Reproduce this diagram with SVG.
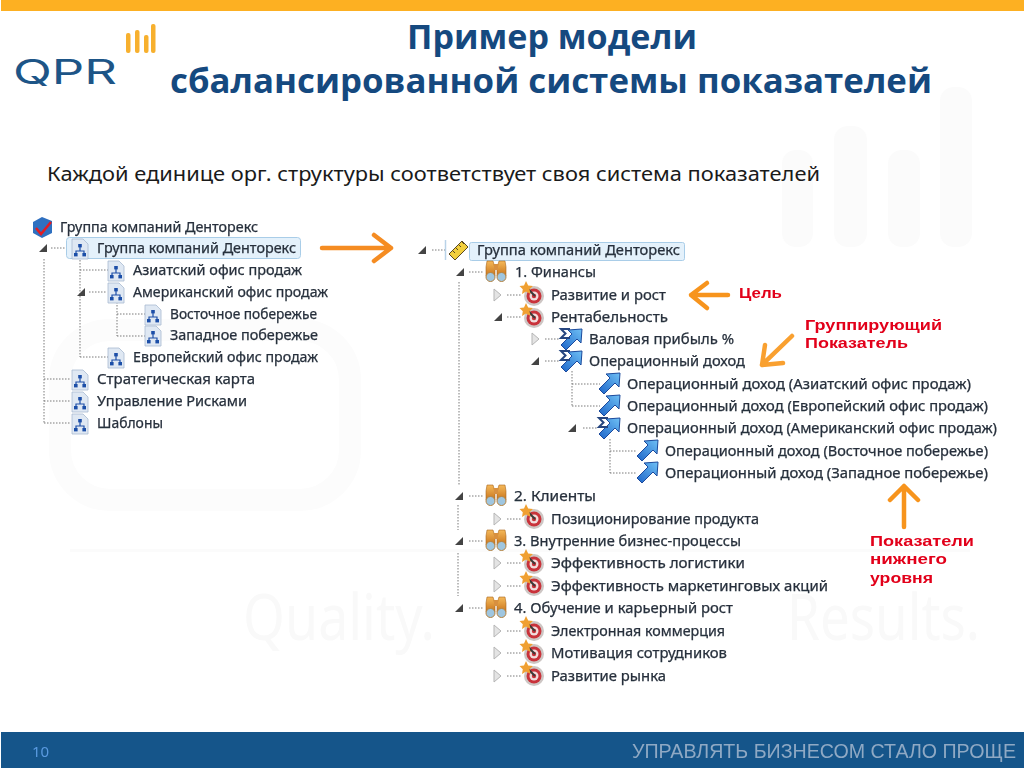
<svg xmlns="http://www.w3.org/2000/svg" width="1024" height="768" viewBox="0 0 1024 768">
<style>
text{font-family:"Noto Sans","DejaVu Sans","Liberation Sans",sans-serif}
.t{font-size:13.5px;fill:#27303c;stroke:#27303c;stroke-width:.25px}
.r{font-size:15.5px;font-weight:700;fill:#e2001a;font-family:"Liberation Sans",Arial,sans-serif}
.d{fill:none;stroke:#7a7a7a;stroke-width:1;stroke-dasharray:1.5 1.5}
.o{fill:none;stroke-width:4.500;stroke-linecap:round;stroke-linejoin:round}
.w{fill:#fbfbfb}
.ti{font-family:"Open Sans","Noto Sans",sans-serif;font-size:34px;font-weight:700;fill:#15497f}
</style>
<defs>
<filter id="soft" x="-2%" y="-2%" width="104%" height="104%"><feGaussianBlur stdDeviation="0.3"/></filter>
<linearGradient id="gb" x1="0" y1="1" x2="1" y2="0"><stop offset="0" stop-color="#1c64c8"/><stop offset="1" stop-color="#6fc0f5"/></linearGradient>
<linearGradient id="go" x1="0" y1="0" x2="0" y2="1"><stop offset="0" stop-color="#f5b95a"/><stop offset="1" stop-color="#c8741c"/></linearGradient>
<polygon id="ef" points="4,-4 4,4 -4,4" fill="#444"/>
<polygon id="ec" points="-3,-6 4,0 -3,6" fill="#e4e4e4" stroke="#b5b5b5"/>
<g id="org">
<path d="M-8,-10H3L8,-5V10H-8Z" fill="#dfe8f3" stroke="#a8bad0" stroke-width=".8"/>
<path d="M0,-2V2M-4,5V2H4V5" fill="none" stroke="#1f4fa8" stroke-width="1.2"/>
<rect x="-1.800" y="-5" width="3.600" height="3.400" fill="#1f4fa8"/><rect x="-6" y="4" width="3.600" height="3.400" fill="#1f4fa8"/><rect x="2.400" y="4" width="3.600" height="3.400" fill="#1f4fa8"/>
</g>
<path id="arr" d="M-10,5L1,-6L-3,-10L11,-11L10,3L6,-1L-5,10Z" fill="url(#gb)" stroke="#1b4a9c" stroke-width="1"/>
<g id="sig"><use href="#arr"/><path d="M-1,-11H-10L-5.500,-6.500L-10,-2H-1" fill="none" stroke="#27457f" stroke-width="2"/></g>
<g id="tgt">
<circle r="10" cy="1" fill="#cdc6c4"/><circle r="7.500" cy="1" fill="#c9333a"/><circle r="4.500" cy="1" fill="#f0dcdc"/><circle r="2.200" cy="1" fill="#c9333a"/>
<path d="M-7,-7L1,1" stroke="#3a3a3a" stroke-width="2"/>
<polygon points="-8,-14 -5.800,-9.500 -1,-9 -4.500,-5.800 -3.500,-1 -8,-3.400 -12,-1 -11.200,-5.800 -14.500,-9 -10,-9.500" fill="#f0a030"/>
</g>
<g id="bin">
<path d="M-9,-10H-3L-1,-3V5H-10V-4ZM3,-10H9L10,-4V5H1V-3Z" fill="url(#go)" stroke="#a8651c" stroke-width=".6"/>
<rect x="-2" y="-7" width="4" height="6" fill="#d89040"/>
<circle cx="-5.500" cy="6" r="4.500" fill="#9fc6e0" stroke="#b5813e"/><circle cx="5.500" cy="6" r="4.500" fill="#9fc6e0" stroke="#b5813e"/>
</g>
</defs>

<g id="background">
<rect width="1024" height="768" fill="#fff"/>
<rect class="w" x="782" y="150" width="31" height="97" rx="14"/><rect class="w" x="834" y="126" width="33" height="121" rx="14"/><rect class="w" x="888" y="150" width="32" height="97" rx="14"/><rect class="w" x="940" y="87" width="32" height="160" rx="14"/>
<rect x="60" y="330" width="290" height="170" rx="50" fill="none" stroke="#fcfcfc" stroke-width="22"/>
<rect x="70" y="549" width="900" height="3" fill="#fbfbfb"/>
<text x="243" y="640" font-size="64" fill="#f9f9f9" textLength="192" lengthAdjust="spacingAndGlyphs">Quality.</text>
<text x="787" y="640" font-size="64" fill="#f9f9f9" textLength="193" lengthAdjust="spacingAndGlyphs">Results.</text>
</g>

<g id="header">
<rect x="1" y="0" width="1023" height="11" fill="#fdb022"/>
<g id="logo">
<rect x="126" y="33" width="4.500" height="20" rx="2" fill="#f7b02e"/><rect x="135" y="30" width="4.500" height="23" rx="2" fill="#f7b02e"/><rect x="144" y="35" width="4.500" height="18" rx="2" fill="#f7b02e"/><rect x="151" y="24" width="4.500" height="29" rx="2" fill="#f7b02e"/>
<text x="13" y="84" font-size="34" font-weight="400" textLength="104" lengthAdjust="spacingAndGlyphs" fill="#1d5587" style="font-family:Inter,'Noto Sans',sans-serif">QPR</text>
</g>
<text class="ti" x="407" y="49" textLength="290" lengthAdjust="spacingAndGlyphs">Пример модели</text>
<text class="ti" x="170" y="93" textLength="762" lengthAdjust="spacingAndGlyphs">сбалансированной системы показателей</text>
<text x="47" y="181" font-size="20" fill="#1a1a1a" textLength="773" lengthAdjust="spacingAndGlyphs">Каждой единице орг. структуры соответствует своя система показателей</text>
</g>

<g id="connectors">
<path class="d" d="M44,259V423M44,379H70M44,401H70M44,423H70M51,248H66M80,260V357M80,270H108M80,357H108M89,292H107M117,302V336M117,314H145M117,336H145"/>
<path class="d" d="M432,250H447M469,272H484M459,282V486M507,295H522M507,317H522M545,339H560M545,361H560M572,371V406M572,384H600M572,406H600M583,428H597M610,439V473M610,451H637M610,473H637"/>
<path class="d" d="M469,496H484M458,505V530M507,519H522M469,541H484M458,553V596M507,563H522M507,586H522M469,608H484M507,631H522M507,653H522M507,676H522"/>
<path d="M445.500,240V260" stroke="#b9d3e8" stroke-width="1.500" fill="none"/>
<g fill="none"><use href="#ef" x="43" y="248"/><use href="#ef" x="81" y="292"/><use href="#ef" x="422" y="250"/><use href="#ef" x="460" y="272"/><use href="#ef" x="498" y="317"/><use href="#ef" x="535" y="361"/><use href="#ef" x="572" y="428"/><use href="#ef" x="459" y="496"/><use href="#ef" x="459" y="541"/><use href="#ef" x="459" y="608"/>
<use href="#ec" x="497" y="295"/><use href="#ec" x="535" y="339"/><use href="#ec" x="497" y="519"/><use href="#ec" x="497" y="563"/><use href="#ec" x="497" y="586"/><use href="#ec" x="497" y="631"/><use href="#ec" x="497" y="653"/><use href="#ec" x="497" y="676"/></g>
</g>

<g id="callout-arrows">
<path class="o" stroke="#f58c22" stroke-width="5" d="M322,248H391M374,235L391,248L374,261"/>
<path class="o" stroke="#f7941d" d="M728,295H691M707,283L691,295L707,308"/>
<path class="o" stroke="#f9a030" d="M792,336L762,365M765,345L762,365L783,363"/>
<path class="o" stroke="#f7941d" d="M904,527V486M890,500L904,486L918,500"/>
</g>

<g id="left-tree" filter="url(#soft)">
<g id="l0"><path d="M33,222L42,217L52,221V233L42,238L33,233Z" fill="#2f6fc0"/><path d="M36,228L41,234L51,222" fill="none" stroke="#e01c24" stroke-width="2.500"/><text class="t" x="60" y="232" textLength="198" lengthAdjust="spacingAndGlyphs">Группа компаний Денторекс</text></g>
<g id="l1"><rect x="66.500" y="237.500" width="234" height="21" rx="3" fill="#e4f1fb" stroke="#a9cde8"/><use href="#org" x="80" y="249"/><text class="t" x="97" y="253" textLength="199" lengthAdjust="spacingAndGlyphs">Группа компаний Денторекс</text></g>
<g id="l2"><use href="#org" x="116" y="271"/><text class="t" x="133" y="275" textLength="169" lengthAdjust="spacingAndGlyphs">Азиатский офис продаж</text></g>
<g id="l3"><use href="#org" x="116" y="293"/><text class="t" x="133" y="297" textLength="195" lengthAdjust="spacingAndGlyphs">Американский офис продаж</text></g>
<g id="l4"><use href="#org" x="153" y="315"/><text class="t" x="170" y="319" textLength="147" lengthAdjust="spacingAndGlyphs">Восточное побережье</text></g>
<g id="l5"><use href="#org" x="153" y="336"/><text class="t" x="170" y="340" textLength="148" lengthAdjust="spacingAndGlyphs">Западное побережье</text></g>
<g id="l6"><use href="#org" x="116" y="358"/><text class="t" x="133" y="362" textLength="185" lengthAdjust="spacingAndGlyphs">Европейский офис продаж</text></g>
<g id="l7"><use href="#org" x="80" y="380"/><text class="t" x="97" y="384" textLength="158" lengthAdjust="spacingAndGlyphs">Стратегическая карта</text></g>
<g id="l8"><use href="#org" x="80" y="402"/><text class="t" x="97" y="406" textLength="150" lengthAdjust="spacingAndGlyphs">Управление Рисками</text></g>
<g id="l9"><use href="#org" x="80" y="424"/><text class="t" x="97" y="428" textLength="66" lengthAdjust="spacingAndGlyphs">Шаблоны</text></g>
</g>

<g id="right-tree" filter="url(#soft)">
<g id="r0"><rect x="469.500" y="242.500" width="215" height="18" rx="2" fill="#e4f1fb" stroke="#a9cde8"/><path d="M449,254L462,241L468,247L455,260Z" fill="#f2cf3c" stroke="#5a4a20"/><path d="M453,251L455,253M456,248L458,250M459,245L461,247M462,242L464,244" stroke="#5a4a20" fill="none"/><text class="t" x="477" y="255" textLength="203" lengthAdjust="spacingAndGlyphs">Группа компаний Денторекс</text></g>
<g id="r1"><use href="#bin" x="496" y="271"/><text class="t" x="515" y="277" textLength="81" lengthAdjust="spacingAndGlyphs">1. Финансы</text></g>
<g id="r2"><use href="#tgt" x="534" y="295"/><text class="t" x="551" y="300" textLength="115" lengthAdjust="spacingAndGlyphs">Развитие и рост</text></g>
<g id="r3"><use href="#tgt" x="534" y="317"/><text class="t" x="551" y="322" textLength="117" lengthAdjust="spacingAndGlyphs">Рентабельность</text></g>
<g id="r4"><use href="#sig" x="571" y="340"/><text class="t" x="589" y="344" textLength="145" lengthAdjust="spacingAndGlyphs">Валовая прибыль %</text></g>
<g id="r5"><use href="#sig" x="571" y="362"/><text class="t" x="589" y="366" textLength="156" lengthAdjust="spacingAndGlyphs">Операционный доход</text></g>
<g id="r6"><use href="#arr" x="609" y="384"/><text class="t" x="627" y="389" textLength="344" lengthAdjust="spacingAndGlyphs">Операционный доход (Азиатский офис продаж)</text></g>
<g id="r7"><use href="#arr" x="609" y="406"/><text class="t" x="627" y="411" textLength="361" lengthAdjust="spacingAndGlyphs">Операционный доход (Европейский офис продаж)</text></g>
<g id="r8"><use href="#sig" x="609" y="429"/><text class="t" x="627" y="433" textLength="370" lengthAdjust="spacingAndGlyphs">Операционный доход (Американский офис продаж)</text></g>
<g id="r9"><use href="#arr" x="647" y="451"/><text class="t" x="665" y="456" textLength="323" lengthAdjust="spacingAndGlyphs">Операционный доход (Восточное побережье)</text></g>
<g id="r10"><use href="#arr" x="647" y="473"/><text class="t" x="665" y="478" textLength="323" lengthAdjust="spacingAndGlyphs">Операционный доход (Западное побережье)</text></g>
<g id="r11"><use href="#bin" x="496" y="495"/><text class="t" x="514" y="501" textLength="82" lengthAdjust="spacingAndGlyphs">2. Клиенты</text></g>
<g id="r12"><use href="#tgt" x="534" y="518"/><text class="t" x="551" y="524" textLength="208" lengthAdjust="spacingAndGlyphs">Позиционирование продукта</text></g>
<g id="r13"><use href="#bin" x="496" y="540"/><text class="t" x="514" y="546" textLength="227" lengthAdjust="spacingAndGlyphs">3. Внутренние бизнес-процессы</text></g>
<g id="r14"><use href="#tgt" x="534" y="563"/><text class="t" x="551" y="568" textLength="194" lengthAdjust="spacingAndGlyphs">Эффективность логистики</text></g>
<g id="r15"><use href="#tgt" x="534" y="585"/><text class="t" x="551" y="591" textLength="277" lengthAdjust="spacingAndGlyphs">Эффективность маркетинговых акций</text></g>
<g id="r16"><use href="#bin" x="496" y="607"/><text class="t" x="514" y="613" textLength="219" lengthAdjust="spacingAndGlyphs">4. Обучение и карьерный рост</text></g>
<g id="r17"><use href="#tgt" x="534" y="630"/><text class="t" x="551" y="636" textLength="174" lengthAdjust="spacingAndGlyphs">Электронная коммерция</text></g>
<g id="r18"><use href="#tgt" x="534" y="653"/><text class="t" x="551" y="658" textLength="176" lengthAdjust="spacingAndGlyphs">Мотивация сотрудников</text></g>
<g id="r19"><use href="#tgt" x="534" y="675"/><text class="t" x="551" y="681" textLength="115" lengthAdjust="spacingAndGlyphs">Развитие рынка</text></g>
</g>

<g id="callouts">
<text class="r" x="739" y="298" textLength="43" lengthAdjust="spacingAndGlyphs">Цель</text>
<text class="r" x="805" y="330" textLength="137" lengthAdjust="spacingAndGlyphs">Группирующий</text>
<text class="r" x="805" y="348" textLength="103" lengthAdjust="spacingAndGlyphs">Показатель</text>
<text class="r" x="870" y="546" textLength="104" lengthAdjust="spacingAndGlyphs">Показатели</text>
<text class="r" x="870" y="564" textLength="77" lengthAdjust="spacingAndGlyphs">нижнего</text>
<text class="r" x="870" y="583" textLength="63" lengthAdjust="spacingAndGlyphs">уровня</text>
</g>

<g id="footer">
<rect x="1" y="732" width="1023" height="36" fill="#15558a"/>
<text x="32" y="757" font-size="15" fill="#5a9ae0">10</text>
<text x="632" y="758" font-size="20" fill="#8fa9c4" textLength="384" lengthAdjust="spacingAndGlyphs" style="font-family:'Liberation Sans',Arial,sans-serif">УПРАВЛЯТЬ БИЗНЕСОМ СТАЛО ПРОЩЕ</text>
</g>
</svg>
